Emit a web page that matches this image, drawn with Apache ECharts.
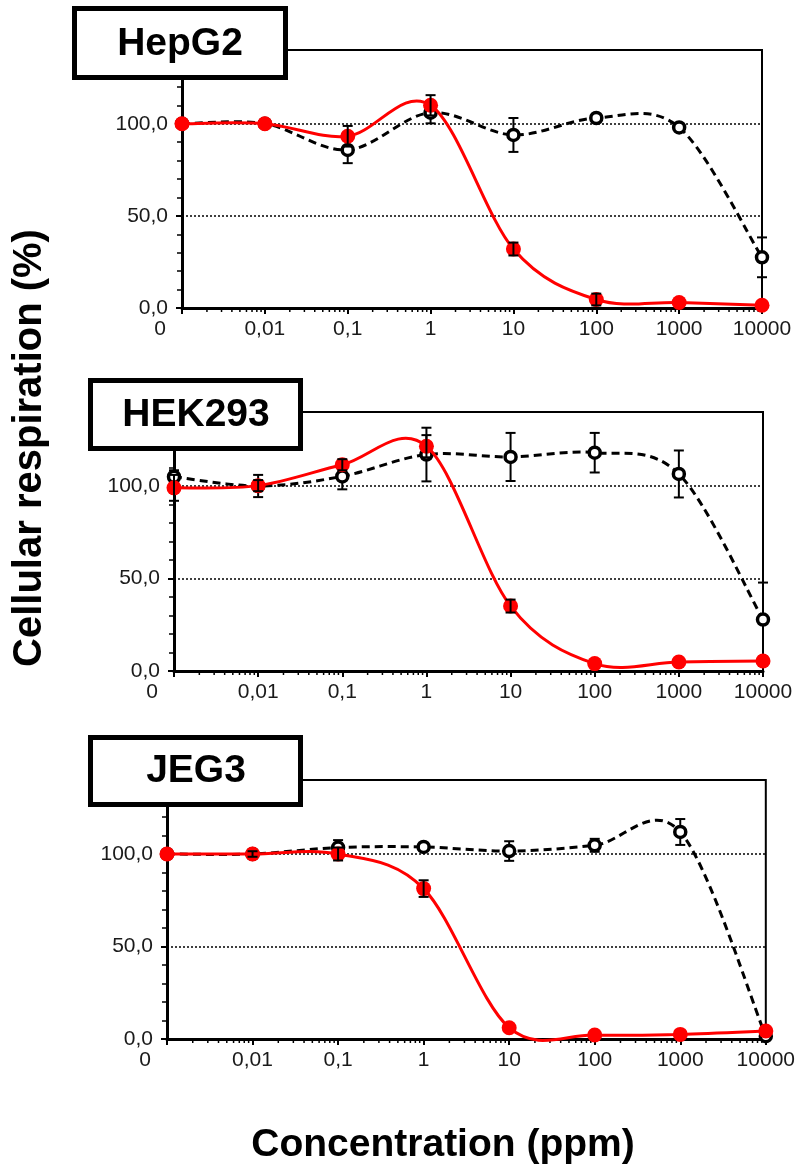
<!DOCTYPE html>
<html>
<head>
<meta charset="utf-8">
<script src="https://cdn.jsdelivr.net/npm/echarts@6/dist/echarts.min.js"></script>
<style>
  html, body { margin: 0; padding: 0; background: #fff; }
  #main { width: 798px; height: 1167px; }
</style>
</head>
<body>
<div id="main"></div>
<script>
// concentrations (ppm); the untreated control "0" sits at 0.001 on the log axis
const concentrations = [0, 0.01, 0.1, 1, 10, 100, 1000, 10000];
const zeroPosition = 0.001;
const xTickLabels = ['0', '0,01', '0,1', '1', '10', '100', '1000', '10000'];
const panelNames = ['HepG2', 'HEK293', 'JEG3'];

// open circles, dashed black
const hepg2Open = [100, 100, 85.8, 106, 93.9, 103.1, 98, 27.5];
const hepg2OpenErr = [0, 0, 7.2, 5.8, 9.2, 2, 2, 10.8];
const hek293Open = [105, 100, 105.2, 117, 115.7, 118, 106.5, 27.8];
const hek293OpenErr = [3.5, 6, 7, 14.5, 13, 10.7, 12.7, 20];
const jeg3Open = [100, 100, 103.5, 103.8, 101.6, 104.7, 111.9, 1.5];
const jeg3OpenErr = [0, 0, 4, 1.5, 5.3, 3.5, 7, 0];

// filled circles, solid red
const hepg2Filled = [100, 100, 93.2, 110, 32, 4.6, 3, 1.5];
const hepg2FilledErr = [0, 0, 5.6, 5.5, 3.5, 3.2, 0, 0];
const hek293Filled = [99, 100.2, 111.5, 121.5, 35.1, 4, 4.9, 5.4];
const hek293FilledErr = [7, 3, 3, 6, 3.5, 0, 0, 0];
const jeg3Filled = [100, 100, 100, 81.3, 6.1, 2.2, 2.5, 4.3];
const jeg3FilledErr = [0, 1.5, 3.5, 4.5, 0, 0, 0, 0];

const openSets = [hepg2Open, hek293Open, jeg3Open];
const openErrSets = [hepg2OpenErr, hek293OpenErr, jeg3OpenErr];
const filledSets = [hepg2Filled, hek293Filled, jeg3Filled];
const filledErrSets = [hepg2FilledErr, hek293FilledErr, jeg3FilledErr];

const FONT = '"Liberation Sans", Arial, sans-serif';

const grids = [
    { left: 182, top: 50, width: 580, height: 258 },
    { left: 174, top: 412, width: 589, height: 259 },
    { left: 167, top: 780, width: 604, height: 259 }
];
const boxes = [
    { x: 72, y: 6, w: 216, h: 74, tx: 180, ty: 44 },
    { x: 88, y: 378, w: 215, h: 73, tx: 196, ty: 415 },
    { x: 88, y: 735, w: 215, h: 72, tx: 196, ty: 771 }
];

function xPos(c) {
    return c === 0 ? zeroPosition : c;
}

// log minor ticks 2..9 within every decade
const minorTicks = [];
for (let d = -3; d < 4; d++) {
    for (let k = 2; k <= 9; k++) {
        minorTicks.push([Number((k * Math.pow(10, d)).toPrecision(3)), 0]);
    }
}

function renderErrorBar(params, api) {
    const err = api.value(2);
    if (!err) return null;
    const x = api.value(0), y = api.value(1);
    const lo = api.coord([x, y - err]);
    const hi = api.coord([x, y + err]);
    const cap = 5;
    const style = { stroke: '#000', lineWidth: 2 };
    return {
        type: 'group',
        children: [
            { type: 'line', shape: { x1: lo[0], y1: lo[1], x2: hi[0], y2: hi[1] }, style: style },
            { type: 'line', shape: { x1: lo[0] - cap, y1: lo[1], x2: lo[0] + cap, y2: lo[1] }, style: style },
            { type: 'line', shape: { x1: hi[0] - cap, y1: hi[1], x2: hi[0] + cap, y2: hi[1] }, style: style }
        ]
    };
}

function renderMinorTick(params, api) {
    const p = api.coord([api.value(0), 0]);
    return {
        type: 'line',
        shape: { x1: p[0], y1: p[1], x2: p[0], y2: p[1] + 4 },
        style: { stroke: '#000', lineWidth: 1.5 }
    };
}

// spreadsheet-style smoothed line (Catmull-Rom through the plotted points)
function curveRenderer(points, lineStyle) {
    return function (params, api) {
        if (params.dataIndex !== 0) return null;
        const px = points.map(p => api.coord(p));
        const n = px.length;
        let d = 'M' + px[0][0] + ',' + px[0][1];
        for (let k = 0; k < n - 1; k++) {
            const p0 = px[Math.max(k - 1, 0)], p1 = px[k], p2 = px[k + 1], p3 = px[Math.min(k + 2, n - 1)];
            const c1x = p1[0] + (p2[0] - p0[0]) / 6, c1y = p1[1] + (p2[1] - p0[1]) / 6;
            const c2x = p2[0] - (p3[0] - p1[0]) / 6, c2y = p2[1] - (p3[1] - p1[1]) / 6;
            d += ' C' + c1x + ',' + c1y + ' ' + c2x + ',' + c2y + ' ' + p2[0] + ',' + p2[1];
        }
        return {
            type: 'path',
            shape: { pathData: d },
            style: Object.assign({ fill: null }, lineStyle)
        };
    };
}

const xAxes = [], yAxes = [], series = [], graphics = [];

grids.forEach((g, i) => {
    xAxes.push({
        type: 'log',
        logBase: 10,
        gridIndex: i,
        min: zeroPosition,
        max: 10000,
        axisLine: { lineStyle: { color: '#000', width: 3 } },
        axisTick: { inside: false, length: 6, lineStyle: { color: '#000', width: 2 } },
        splitLine: { show: false },
        axisLabel: {
            color: '#1a1a1a',
            fontSize: 21,
            fontFamily: FONT,
            margin: 11,
            formatter: function (v) {
                const idx = Math.round(Math.log10(v)) + 3;
                return idx === 0 ? '{z|' + xTickLabels[0] + '}' : xTickLabels[idx];
            },
            rich: {
                z: { fontSize: 21, fontFamily: FONT, color: '#1a1a1a', padding: [0, 44, 0, 0] }
            }
        }
    });
    yAxes.push({
        type: 'value',
        gridIndex: i,
        min: 0,
        max: 140,
        interval: 50,
        axisLine: { show: true, lineStyle: { color: '#000', width: 3 } },
        axisTick: { show: true, inside: false, length: 6, lineStyle: { color: '#000', width: 2 } },
        minorTick: { show: true, splitNumber: 5, length: 5, lineStyle: { color: '#000', width: 1.5 } },
        splitLine: { show: true, lineStyle: { color: '#000', width: 1.5, type: [2, 2] } },
        axisLabel: {
            color: '#1a1a1a',
            fontSize: 21,
            fontFamily: FONT,
            margin: 14,
            showMaxLabel: false,
            formatter: function (v) {
                return v.toFixed(1).replace('.', ',');
            }
        }
    });

    const openPts = concentrations.map((c, k) => [xPos(c), openSets[i][k]]);
    const filledPts = concentrations.map((c, k) => [xPos(c), filledSets[i][k]]);
    const openErrs = concentrations.map((c, k) => [xPos(c), openSets[i][k], openErrSets[i][k]]);
    const filledErrs = concentrations.map((c, k) => [xPos(c), filledSets[i][k], filledErrSets[i][k]]);
    const axes = { xAxisIndex: i, yAxisIndex: i };

    series.push(Object.assign({ type: 'custom', silent: true, z: 1, renderItem: renderMinorTick, data: minorTicks }, axes));
    series.push(Object.assign({ type: 'custom', silent: true, z: 2, renderItem: renderErrorBar, data: openErrs }, axes));
    series.push(Object.assign({
        type: 'custom', silent: true, z: 3,
        renderItem: curveRenderer(openPts, { stroke: '#000', lineWidth: 3, lineDash: [8, 5] }),
        data: openPts
    }, axes));
    series.push(Object.assign({
        type: 'scatter', z: 4,
        symbol: 'circle', symbolSize: 11,
        itemStyle: { color: '#fff', borderColor: '#000', borderWidth: 3.5, opacity: 1 },
        data: openPts
    }, axes));
    series.push(Object.assign({
        type: 'custom', silent: true, z: 5,
        renderItem: curveRenderer(filledPts, { stroke: '#ff0000', lineWidth: 3, lineJoin: 'round' }),
        data: filledPts
    }, axes));
    series.push(Object.assign({
        type: 'scatter', z: 6,
        symbol: 'circle', symbolSize: 15,
        itemStyle: { color: '#ff0000', opacity: 1 },
        data: filledPts
    }, axes));
    series.push(Object.assign({ type: 'custom', silent: true, z: 7, renderItem: renderErrorBar, data: filledErrs }, axes));

    const b = boxes[i];
    graphics.push({
        type: 'rect',
        z: 100,
        shape: { x: b.x + 2.5, y: b.y + 2.5, width: b.w - 5, height: b.h - 5 },
        style: { fill: '#fff', stroke: '#000', lineWidth: 5 }
    });
    graphics.push({
        type: 'text',
        z: 101,
        x: b.tx,
        y: b.ty,
        style: {
            text: panelNames[i],
            font: 'bold 39px ' + FONT,
            fill: '#000',
            align: 'center',
            verticalAlign: 'middle'
        }
    });
});

graphics.push({
    type: 'text',
    z: 101,
    x: 30,
    y: 448,
    rotation: Math.PI / 2,
    style: {
        text: 'Cellular respiration (%)',
        font: 'bold 40px ' + FONT,
        fill: '#000',
        align: 'center',
        verticalAlign: 'middle'
    }
});
graphics.push({
    type: 'text',
    z: 101,
    x: 443,
    y: 1145,
    style: {
        text: 'Concentration (ppm)',
        font: 'bold 39px ' + FONT,
        fill: '#000',
        align: 'center',
        verticalAlign: 'middle'
    }
});

const chart = echarts.init(document.getElementById('main'));
chart.setOption({
    animation: false,
    backgroundColor: '#fff',
    grid: grids.map(g => Object.assign({ show: true, borderColor: '#000', borderWidth: 2, backgroundColor: 'transparent' }, g)),
    xAxis: xAxes,
    yAxis: yAxes,
    series: series,
    graphic: graphics
});
</script>
</body>
</html>
